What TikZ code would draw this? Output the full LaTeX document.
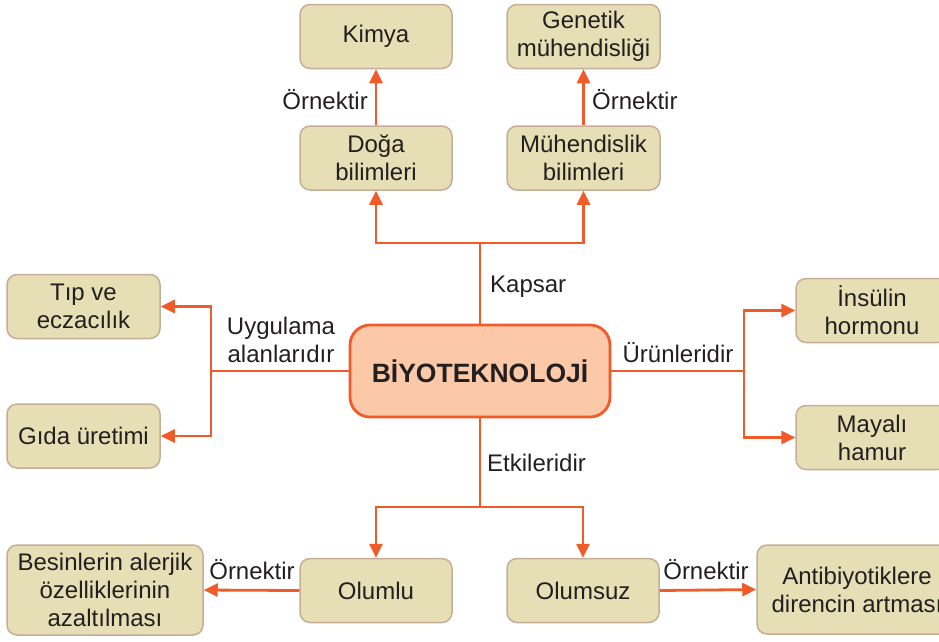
\documentclass[tikz,border=0pt]{standalone}
\usepackage{fontspec}
\setmainfont{Liberation Sans}
\usetikzlibrary{arrows.meta}
\definecolor{boxfill}{HTML}{E6DEB4}
\definecolor{boxline}{HTML}{C4AE98}
\definecolor{arr}{HTML}{F15A29}
\definecolor{bioFill}{HTML}{FBC8A8}
\definecolor{txt}{HTML}{231F20}
\begin{document}
\begin{tikzpicture}[x=1pt,y=-1pt,
  every node/.style={text=txt,font=\fontsize{24}{28}\selectfont},
  box/.style={draw=boxline,line width=1.5pt,fill=boxfill,rounded corners=10pt,align=center,inner sep=0pt},
  std/.style={box,minimum width=152pt,minimum height=64pt},
  conn/.style={draw=arr,line width=2.8pt},
  arrw/.style={conn,-{Triangle[length=14pt,width=13pt]}},
  lbl/.style={inner sep=0pt,align=center}]
\useasboundingbox (0,0) rectangle (939,641);
% top
\node[std] (kimya) at (376,36.5) {Kimya};
\node[std,minimum width=153pt] (gen) at (583.5,36.5) {Genetik\\mühendisliği};
\node[std] (doga) at (376,158) {Doğa\\bilimleri};
\node[std,minimum width=153pt] (muh) at (583.5,158) {Mühendislik\\bilimleri};
% center
\node[draw=arr,line width=2.8pt,fill=bioFill,rounded corners=20pt,minimum width=260pt,minimum height=92pt,inner sep=0pt,font=\fontsize{26.5}{30}\selectfont\bfseries] (bio) at (480,371) {BİYOTEKNOLOJİ};
% left
\node[std,minimum width=153pt] (tip) at (83.5,306.5) {Tıp ve\\eczacılık};
\node[std,minimum width=153pt] (gida) at (83.5,436) {Gıda üretimi};
% right
\node[std] (ins) at (872,310.5) {İnsülin\\hormonu};
\node[std] (may) at (872,437.5) {Mayalı\\hamur};
% bottom
\node[std] (olumlu) at (376,590.5) {Olumlu};
\node[std] (olumsuz) at (583,590.5) {Olumsuz};
\node[box,minimum width=196pt,minimum height=90pt] (besin) at (105,590) {Besinlerin alerjik\\özelliklerinin\\azaltılması};
\node[box,minimum width=200pt,minimum height=89pt] (anti) at (857,589.5) {Antibiyotiklere\\direncin artması};
% junctions
\coordinate (jt) at (480,243);
\coordinate (jl) at (211,371);
\coordinate (jr) at (744,371);
\coordinate (jb) at (480,507);
% connectors
\draw[arrw] (doga.north) -- (kimya.south);
\draw[arrw] (muh.north) -- (gen.south);
\draw[conn] (bio.north) -- (jt);
\draw[arrw] (jt) -| (doga.south);
\draw[arrw] (jt) -| (muh.south);
\draw[conn] (bio.west) -- (jl);
\draw[arrw] (jl) |- (tip.east);
\draw[arrw] (jl) |- (gida.east);
\draw[conn] (bio.east) -- (jr);
\draw[arrw] (jr) |- (ins.west);
\draw[arrw] (jr) |- (may.west);
\draw[conn] (bio.south) -- (jb);
\draw[arrw] (jb) -| (olumlu.north);
\draw[arrw] (jb) -| (olumsuz.north);
\draw[arrw] (olumlu.west) -- (besin.east);
\draw[arrw] (olumsuz.east) -- (anti.west);
% labels
\node[lbl,anchor=east] (l1) at (368,100) {Örnektir};
\node[lbl,anchor=west] (l2) at (592,100) {Örnektir};
\node[lbl,anchor=west] (l3) at (490,287) {Kapsar};
\node[lbl] (l4) at (281,340) {Uygulama\\alanlarıdır};
\node[lbl] (l5) at (678,353) {Ürünleridir};
\node[lbl,anchor=west] (l6) at (487,463) {Etkileridir};
\node[lbl] (l7) at (252,570) {Örnektir};
\node[lbl] (l8) at (706,570) {Örnektir};
\end{tikzpicture}
\end{document}
